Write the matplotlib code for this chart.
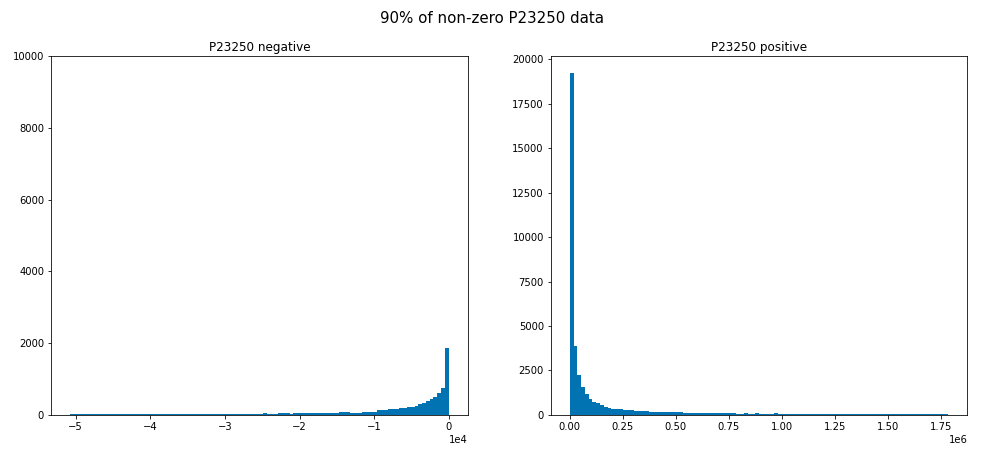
import numpy as np
import matplotlib
matplotlib.use("Agg")
import matplotlib.pyplot as plt

# histogram counts (100 bins each)
neg_min, neg_max = -50750, -30
neg_counts = [18, 18, 17, 19, 18, 18, 19, 18, 17, 18,
              20, 20, 19, 20, 21, 20, 20, 19, 20, 20,
              22, 22, 23, 22, 21, 22, 23, 22, 22, 23,
              24, 24, 25, 24, 23, 24, 25, 24, 24, 25,
              27, 27, 26, 28, 27, 27, 28, 27, 26, 27,
              30, 55, 35, 35, 35, 55, 55, 55, 40, 55,
              47, 45, 46, 47, 45, 48, 47, 46, 48, 50,
              50, 85, 85, 85, 50, 50, 55, 85, 88, 90,
              92, 140, 150, 140, 160, 165, 170, 190, 200, 215,
              235, 260, 300, 330, 400, 435, 490, 600, 760, 1867]

pos_min, pos_max = 0, 1785000
pos_counts = [19220, 3893, 2250, 1545, 1170, 910, 740, 656, 580, 465,
              410, 356, 337, 318, 300, 300, 281, 243, 240, 225,
              200, 185, 170, 170, 170, 170, 170, 170, 187, 187,
              112, 112, 112, 112, 112, 112, 112, 112, 112, 112,
              112, 112, 112, 112, 75, 75, 112, 56, 56, 112,
              45, 45, 45, 45, 112, 42, 42, 41, 41, 40,
              40, 40, 39, 39, 38, 38, 38, 37, 37, 37,
              36, 36, 36, 35, 35, 35, 35, 34, 34, 34,
              34, 33, 33, 33, 33, 32, 32, 32, 32, 32,
              31, 31, 31, 31, 30, 30, 30, 30, 30, 30]

blue = '#0173b2'

fig, axes = plt.subplots(1, 2, figsize=(983/72, 458/72), dpi=72)
fig.subplots_adjust(left=0.052, right=0.984, bottom=0.094, top=0.878, wspace=0.2)

# negative side
edges = np.linspace(neg_min, neg_max, len(neg_counts) + 1)
centers = (edges[:-1] + edges[1:]) / 2
axes[0].hist(centers, bins=edges, weights=neg_counts, color=blue)
axes[0].set_ylim(0, 10000)
axes[0].set_title('P23250 negative', fontsize=12, pad=5)
axes[0].ticklabel_format(axis='x', style='sci', scilimits=(0, 0))

# positive side
edges = np.linspace(pos_min, pos_max, len(pos_counts) + 1)
centers = (edges[:-1] + edges[1:]) / 2
axes[1].hist(centers, bins=edges, weights=pos_counts, color=blue)
axes[1].set_title('P23250 positive', fontsize=12, pad=5)
axes[1].ticklabel_format(axis='x', style='sci', scilimits=(0, 0))

for ax in axes:
    ax.tick_params(labelsize=10)

fig.suptitle('90% of non-zero P23250 data', fontsize=15, y=0.975)
fig.savefig('out.png', dpi=72)
